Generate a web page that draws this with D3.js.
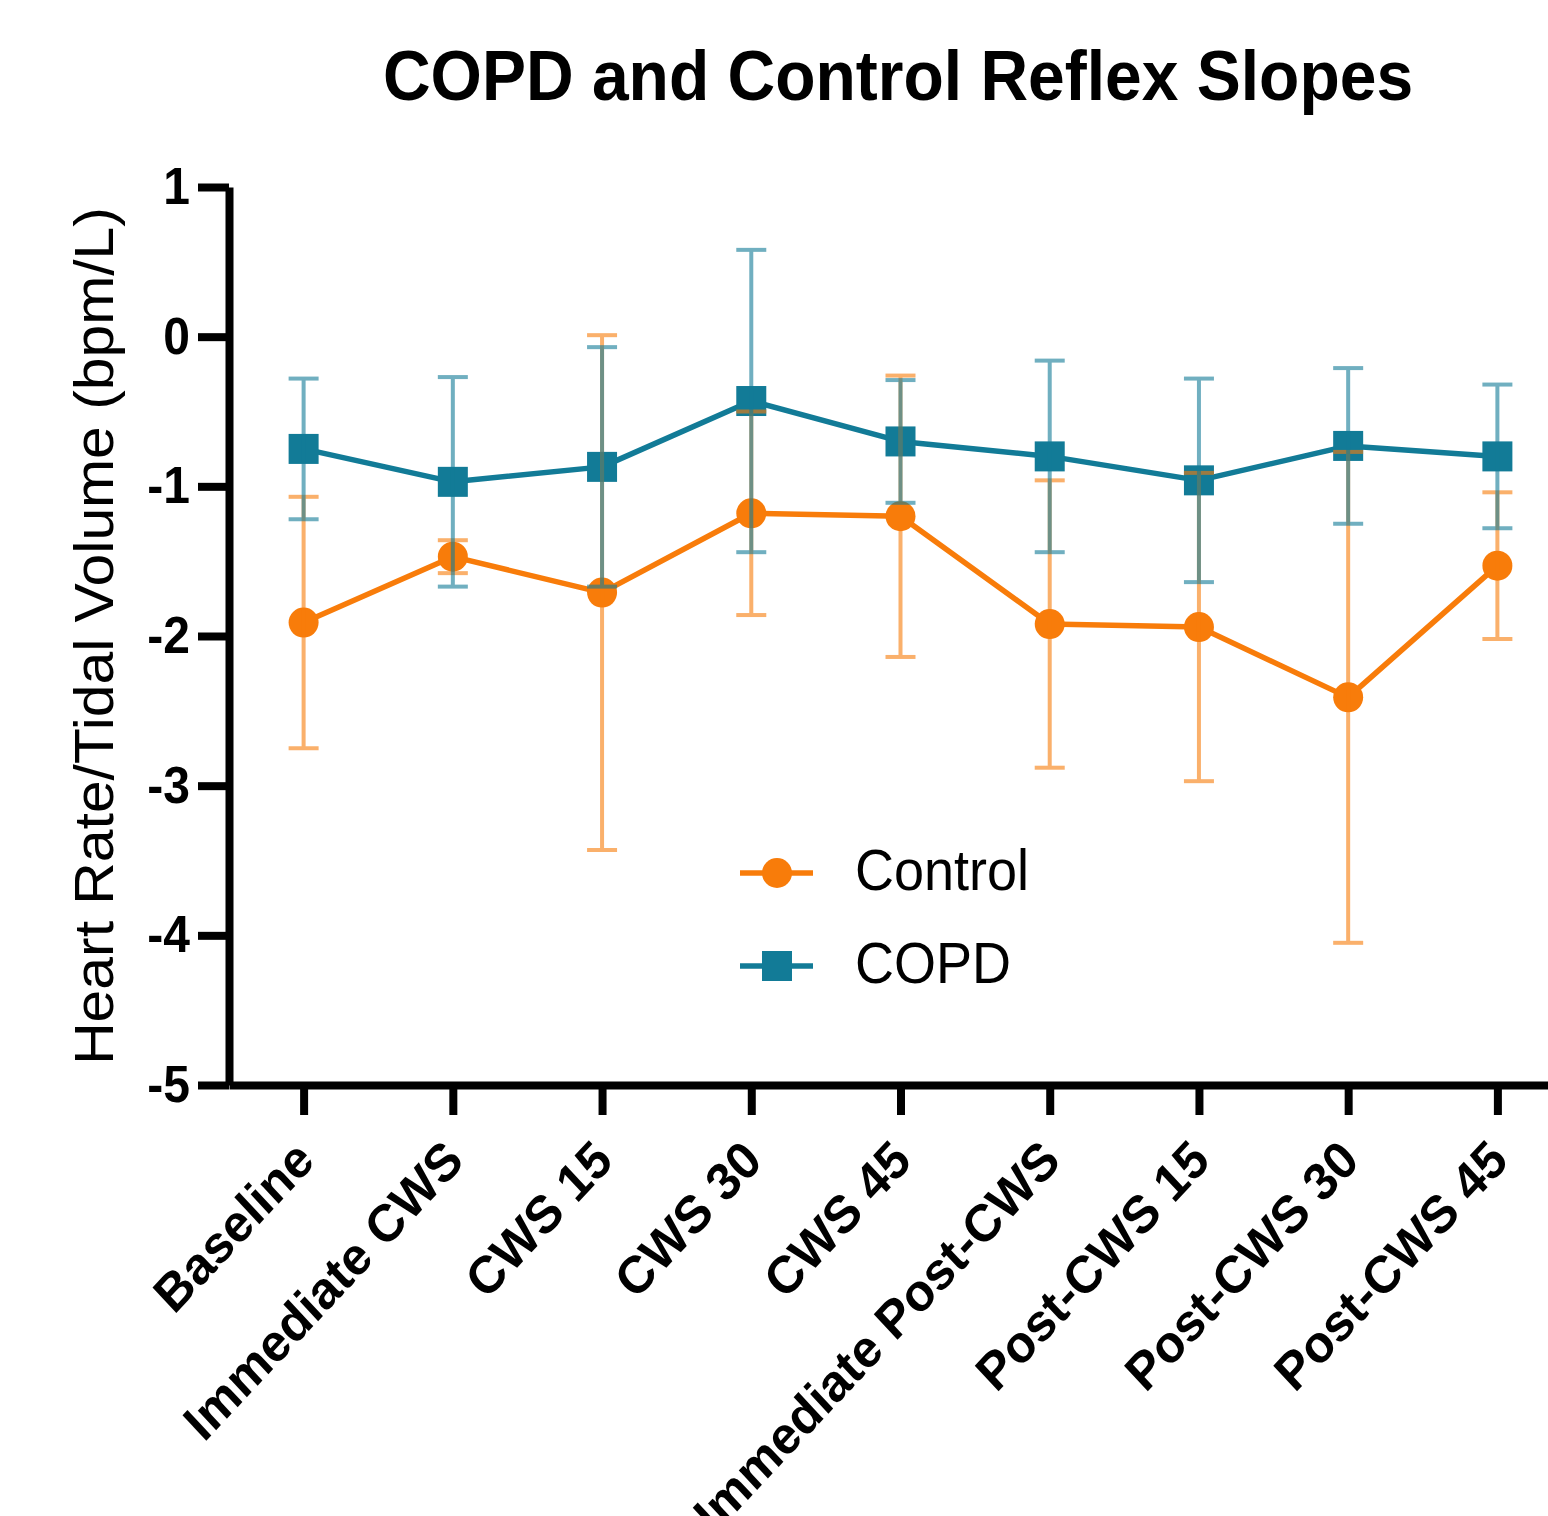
<!DOCTYPE html>
<html>
<head>
<meta charset="utf-8">
<script src="https://cdn.jsdelivr.net/npm/d3@7"></script>
<style>
  body { margin: 0; background: #fff; }
  text { font-family: Arial, "Liberation Sans", sans-serif; fill: #000; }
</style>
</head>
<body>
<div class="chart"></div>
<script>
// Data (mean and error bar half-length)
var categories = ["Baseline", "Immediate CWS", "CWS 15", "CWS 30", "CWS 45",
  "Immediate Post-CWS", "Post-CWS 15", "Post-CWS 30", "Post-CWS 45"];
var controlMean = [-1.91, -1.47, -1.71, -1.18, -1.20, -1.92, -1.94, -2.41, -1.53];
var controlErr = [0.84, 0.11, 1.72, 0.68, 0.94, 0.96, 1.03, 1.64, 0.49];
var copdMean = [-0.75, -0.97, -0.87, -0.43, -0.70, -0.80, -0.96, -0.73, -0.80];
var copdErr = [0.47, 0.70, 0.80, 1.01, 0.41, 0.64, 0.68, 0.52, 0.48];
var yTicks = [1, 0, -1, -2, -3, -4, -5];
var seriesNames = ["Control", "COPD"];
var seriesColors = ["#f87c0a", "#127b97"];

var svgWidth = 1548;
var svgHeight = 1516;
// the source picture is slightly taller than wide, texts get the same stretch
var stretch = 1.07;

var svg = d3.select(".chart")
  .append("svg")
  .attr("width", svgWidth)
  .attr("height", svgHeight);

var xScale = d3.scalePoint().domain(categories).range([229, 1572]).padding(0.5);
var yScale = d3.scaleLinear().domain([-5, 1]).range([1085, 187]);

var series = [
  { name: seriesNames[0], mean: controlMean, err: controlErr, color: seriesColors[0], shape: "circle" },
  { name: seriesNames[1], mean: copdMean, err: copdErr, color: seriesColors[1], shape: "square" }
];

// Title
svg.append("text")
  .attr("transform", "translate(898,100) scale(1," + stretch + ")")
  .attr("text-anchor", "middle")
  .style("font-size", "66px")
  .style("font-weight", "bold")
  .text("COPD and Control Reflex Slopes");

// Y axis label
svg.append("text")
  .attr("transform", "translate(113,636) scale(1," + stretch + ") rotate(-90)")
  .attr("text-anchor", "middle")
  .style("font-size", "55px")
  .text("Heart Rate/Tidal Volume (bpm/L)");

var chart = svg.append("g");

// Lines
var line = d3.line()
  .x(function(d, i) { return xScale(categories[i]); })
  .y(function(d) { return yScale(d); });

series.forEach(function(s) {
  chart.append("path")
    .datum(s.mean)
    .attr("d", line)
    .attr("fill", "none")
    .attr("stroke", s.color)
    .attr("stroke-width", 5.5)
    .attr("stroke-linejoin", "round");
});

// Markers
series.forEach(function(s) {
  var pts = s.mean.map(function(m, i) { return { cat: categories[i], v: m }; });
  if (s.shape === "circle") {
    chart.selectAll(null)
      .data(pts)
      .enter()
      .append("circle")
      .attr("cx", function(d) { return xScale(d.cat); })
      .attr("cy", function(d) { return yScale(d.v); })
      .attr("r", 15)
      .attr("fill", s.color);
  } else {
    chart.selectAll(null)
      .data(pts)
      .enter()
      .append("rect")
      .attr("x", function(d) { return xScale(d.cat) - 15; })
      .attr("y", function(d) { return yScale(d.v) - 15; })
      .attr("width", 30)
      .attr("height", 30)
      .attr("fill", s.color);
  }
});

// Error bars, drawn translucent on top
series.forEach(function(s) {
  var bars = s.mean.map(function(m, i) {
    return { cat: categories[i], hi: m + s.err[i], lo: m - s.err[i] };
  });
  var g = chart.append("g")
    .attr("stroke", s.color)
    .attr("stroke-width", 4)
    .attr("opacity", 0.6);

  g.selectAll(null)
    .data(bars)
    .enter()
    .append("line")
    .attr("x1", function(d) { return xScale(d.cat); })
    .attr("x2", function(d) { return xScale(d.cat); })
    .attr("y1", function(d) { return yScale(d.hi); })
    .attr("y2", function(d) { return yScale(d.lo); });

  ["hi", "lo"].forEach(function(end) {
    g.selectAll(null)
      .data(bars)
      .enter()
      .append("line")
      .attr("x1", function(d) { return xScale(d.cat) - 15; })
      .attr("x2", function(d) { return xScale(d.cat) + 15; })
      .attr("y1", function(d) { return yScale(d[end]); })
      .attr("y2", function(d) { return yScale(d[end]); });
  });
});

// X axis
var xAxis = svg.append("g")
  .attr("transform", "translate(0," + yScale(-5) + ")")
  .call(d3.axisBottom(xScale).tickSize(30).tickSizeOuter(0).tickFormat(""));
xAxis.select(".domain").attr("stroke", "#000").attr("stroke-width", 8);
xAxis.selectAll(".tick line").attr("stroke", "#000").attr("stroke-width", 8);

svg.selectAll(".xLabel")
  .data(categories)
  .enter()
  .append("text")
  .attr("class", "xLabel")
  .attr("transform", function(d) {
    return "translate(" + (xScale(d) + 13) + ",1163) scale(1," + stretch + ") rotate(-45)";
  })
  .attr("text-anchor", "end")
  .style("font-size", "49px")
  .style("font-weight", "bold")
  .text(function(d) { return d; });

// Y axis
var yAxis = svg.append("g")
  .attr("transform", "translate(229,0)")
  .call(d3.axisLeft(yScale)
    .tickValues(yTicks)
    .tickSize(31)
    .tickSizeOuter(0)
    .tickPadding(8)
    .tickFormat(function(d) { return String(d); }));
yAxis.select(".domain").attr("stroke", "#000").attr("stroke-width", 8);
yAxis.selectAll(".tick line").attr("stroke", "#000").attr("stroke-width", 8);
yAxis.selectAll(".tick text")
  .attr("transform", "scale(1," + stretch + ")")
  .style("font-size", "48px")
  .style("font-weight", "bold")
  .style("font-family", "Arial, 'Liberation Sans', sans-serif")
  .attr("fill", "#000");

// Legend
var legend = svg.selectAll(".legendItem")
  .data(series)
  .enter()
  .append("g")
  .attr("class", "legendItem")
  .attr("transform", function(d, i) { return "translate(777," + (873 + i * 93) + ")"; });

legend.append("line")
  .attr("x1", -37)
  .attr("x2", 36)
  .attr("stroke", function(d) { return d.color; })
  .attr("stroke-width", 5.5);

legend.each(function(d) {
  var item = d3.select(this);
  if (d.shape === "circle") {
    item.append("circle").attr("r", 15).attr("fill", d.color);
  } else {
    item.append("rect").attr("x", -15).attr("y", -15).attr("width", 30).attr("height", 30).attr("fill", d.color);
  }
});

legend.append("text")
  .attr("transform", "translate(78,17) scale(1," + stretch + ")")
  .style("font-size", "54px")
  .text(function(d) { return d.name; });
</script>
</body>
</html>
